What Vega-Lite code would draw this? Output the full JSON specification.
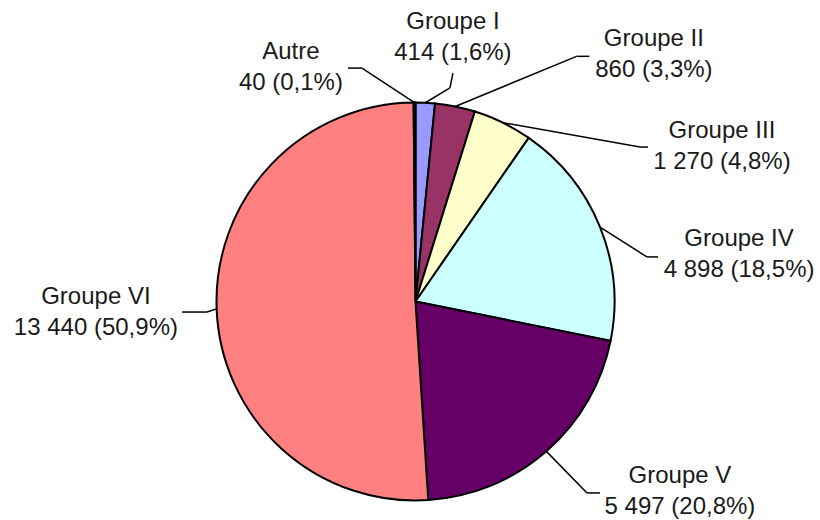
{
  "$schema": "https://vega.github.io/schema/vega-lite/v6.json",
  "width": 820,
  "height": 520,
  "autosize": "none",
  "padding": 0,
  "background": "white",
  "config": {"view": {"stroke": null}},
  "data": {
    "values": [
      {"groupe": "Groupe I", "valeur": 414, "pourcentage": 1.6, "ordre": 1},
      {"groupe": "Groupe II", "valeur": 860, "pourcentage": 3.3, "ordre": 2},
      {"groupe": "Groupe III", "valeur": 1270, "pourcentage": 4.8, "ordre": 3},
      {"groupe": "Groupe IV", "valeur": 4898, "pourcentage": 18.5, "ordre": 4},
      {"groupe": "Groupe V", "valeur": 5497, "pourcentage": 20.8, "ordre": 5},
      {"groupe": "Groupe VI", "valeur": 13440, "pourcentage": 50.9, "ordre": 6},
      {"groupe": "Autre", "valeur": 40, "pourcentage": 0.1, "ordre": 7}
    ]
  },
  "transform": [
    {"window": [{"op": "sum", "field": "valeur", "as": "cumul"}], "sort": [{"field": "ordre"}]},
    {"joinaggregate": [{"op": "sum", "field": "valeur", "as": "total"}]},
    {"calculate": "2 * PI * (datum.cumul - datum.valeur / 2) / datum.total", "as": "angle"},
    {"calculate": "sin(datum.angle)", "as": "ex"},
    {"calculate": "cos(datum.angle)", "as": "ey"},
    {"calculate": "[0.173, 0.809, 1.128, 1.163, 0.862, -1.048, -0.269][datum.ordre - 1]", "as": "bx"},
    {"calculate": "[1.073, 1.232, 0.776, 0.224, -0.962, -0.053, 1.173][datum.ordre - 1]", "as": "by"},
    {"calculate": "[0.188, 0.874, 1.168, 1.219, 0.927, -1.173, -0.339][datum.ordre - 1]", "as": "tx"},
    {"calculate": "[1.148, 1.232, 0.776, 0.224, -0.962, -0.053, 1.173][datum.ordre - 1]", "as": "ty"},
    {"calculate": "[0.188, 1.198, 1.540, 1.626, 1.329, -1.606, -0.626][datum.ordre - 1]", "as": "lx"},
    {"calculate": "[1.407, 1.317, 0.859, 0.312, -0.879, 0.025, 1.256][datum.ordre - 1]", "as": "ly"},
    {"calculate": "datum.groupe + '\\n' + replace(format(datum.valeur, ',d'), ',', ' ') + ' (' + replace(format(datum.pourcentage, '.1f'), '.', ',') + '%)'", "as": "etiquette"}
  ],
  "resolve": {"scale": {"x": "shared", "y": "shared"}},
  "layer": [
    {
      "mark": {"type": "arc", "outerRadius": 199, "stroke": "#000000", "strokeWidth": 2},
      "encoding": {
        "x": {"datum": 0, "type": "quantitative", "scale": {"domain": [-2.08794, 2.03266], "nice": false, "zero": false}, "axis": null},
        "y": {"datum": 0, "type": "quantitative", "scale": {"domain": [-1.09799, 1.51508], "nice": false, "zero": false}, "axis": null},
        "theta": {"field": "valeur", "type": "quantitative", "stack": true},
        "order": {"field": "ordre", "type": "quantitative"},
        "color": {
          "field": "groupe",
          "type": "nominal",
          "legend": null,
          "scale": {
            "domain": ["Groupe I", "Groupe II", "Groupe III", "Groupe IV", "Groupe V", "Groupe VI", "Autre"],
            "range": ["#9999FF", "#993366", "#FFFFCC", "#CCFFFF", "#660066", "#FF8080", "#0066CC"]
          }
        }
      }
    },
    {
      "mark": {"type": "rule", "color": "#000000", "strokeWidth": 1.5},
      "encoding": {
        "x": {"field": "ex", "type": "quantitative"},
        "y": {"field": "ey", "type": "quantitative"},
        "x2": {"field": "bx"},
        "y2": {"field": "by"}
      }
    },
    {
      "mark": {"type": "rule", "color": "#000000", "strokeWidth": 1.5},
      "encoding": {
        "x": {"field": "bx", "type": "quantitative"},
        "y": {"field": "by", "type": "quantitative"},
        "x2": {"field": "tx"},
        "y2": {"field": "ty"}
      }
    },
    {
      "mark": {"type": "text", "align": "center", "baseline": "middle", "font": "Liberation Sans", "fontSize": 24, "lineHeight": 31, "lineBreak": "\n", "color": "#1a1a1a"},
      "encoding": {
        "x": {"field": "lx", "type": "quantitative"},
        "y": {"field": "ly", "type": "quantitative"},
        "text": {"field": "etiquette"}
      }
    }
  ]
}
